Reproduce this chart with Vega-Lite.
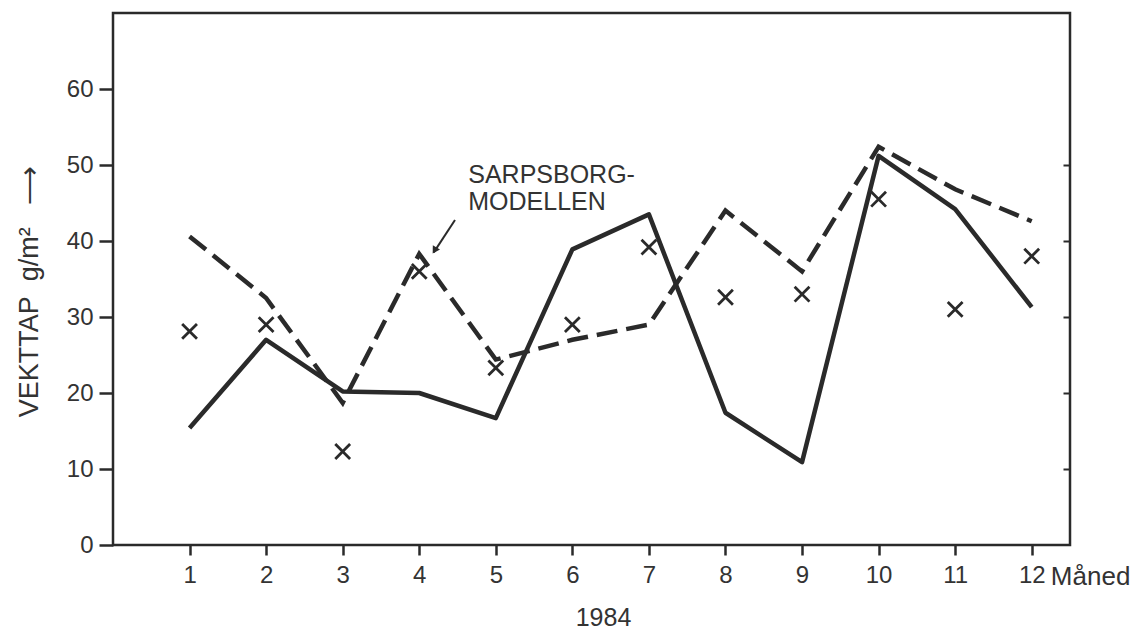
{
  "$schema": "https://vega.github.io/schema/vega-lite/v6.json",
  "width": 957,
  "height": 532,
  "autosize": "none",
  "padding": {"left": 113, "top": 13, "right": 70, "bottom": 85},
  "background": "#ffffff",
  "config": {
    "font": "Liberation Sans",
    "view": {"stroke": "#2a2a2a", "strokeWidth": 2.5},
    "axis": {
      "grid": false,
      "domain": false,
      "tickColor": "#2a2a2a",
      "tickWidth": 2.5,
      "labelColor": "#333333",
      "labelFont": "Liberation Sans",
      "labelFontSize": 24,
      "titleColor": "#333333",
      "titleFont": "Liberation Sans",
      "titleFontWeight": "normal"
    },
    "text": {"lineBreak": "\n"}
  },
  "datasets": {
    "vekttap": [
      {"maned": 1, "malt": 15.4, "modell": 40.6, "kryss": 28.1},
      {"maned": 2, "malt": 27.0, "modell": 32.5, "kryss": 29.0},
      {"maned": 3, "malt": 20.2, "modell": 18.7, "kryss": 12.3},
      {"maned": 4, "malt": 20.0, "modell": 38.3, "kryss": 36.0},
      {"maned": 5, "malt": 16.7, "modell": 24.4, "kryss": 23.3},
      {"maned": 6, "malt": 38.9, "modell": 27.0, "kryss": 29.0},
      {"maned": 7, "malt": 43.5, "modell": 29.0, "kryss": 39.2},
      {"maned": 8, "malt": 17.4, "modell": 44.0, "kryss": 32.6},
      {"maned": 9, "malt": 10.9, "modell": 36.0, "kryss": 33.0},
      {"maned": 10, "malt": 51.2, "modell": 52.4, "kryss": 45.5},
      {"maned": 11, "malt": 44.2, "modell": 46.8, "kryss": 31.0},
      {"maned": 12, "malt": 31.3, "modell": 42.6, "kryss": 38.0}
    ],
    "merknad": [
      {"x": 4.64, "y": 47.6, "tekst": "SARPSBORG-\nMODELLEN"}
    ],
    "pil": [
      {"x": 4.467, "y": 42.76, "x2": 4.19, "y2": 38.5, "spissx": 4.2, "spissy": 38.75}
    ],
    "enhet": [
      {"x": 12.25, "y": -5.3, "tekst": "Måned"}
    ]
  },
  "layer": [
    {
      "data": {"name": "vekttap"},
      "mark": {"type": "line", "color": "#2a2a2a", "strokeWidth": 4.5, "strokeJoin": "round"},
      "encoding": {
        "x": {
          "field": "maned", "type": "quantitative",
          "scale": {"domain": [0, 12.5], "nice": false, "zero": false},
          "axis": {
            "values": [1, 2, 3, 4, 5, 6, 7, 8, 9, 10, 11, 12],
            "format": "d",
            "tickSize": 10,
            "labelPadding": 8,
            "title": "1984",
            "titleFontSize": 25,
            "titleX": 490,
            "titleY": 80,
            "titleBaseline": "alphabetic"
          }
        },
        "y": {
          "field": "malt", "type": "quantitative",
          "scale": {"domain": [0, 70], "nice": false},
          "axis": {
            "orient": "left",
            "values": [0, 10, 20, 30, 40, 50, 60],
            "format": "d",
            "tickSize": 14,
            "labelPadding": 6,
            "title": "VEKTTAP\u00a0\u00a0g/m²\u00a0\u00a0\u00a0⟶",
            "titleFontSize": 27,
            "titleX": -76,
            "titleY": 278,
            "titleAngle": 270,
            "titleAlign": "center",
            "titleBaseline": "alphabetic"
          }
        }
      }
    },
    {
      "data": {"name": "vekttap"},
      "mark": {"type": "line", "color": "#2a2a2a", "strokeWidth": 4.5, "strokeDash": [21, 9]},
      "encoding": {
        "x": {"field": "maned", "type": "quantitative"},
        "y": {
          "field": "modell", "type": "quantitative",
          "axis": {
            "orient": "right",
            "values": [10, 20, 30, 40, 50],
            "tickSize": -7,
            "tickWidth": 2,
            "labels": false,
            "title": null
          }
        }
      }
    },
    {
      "data": {"name": "vekttap"},
      "mark": {
        "type": "point",
        "shape": "M-1,-1L1,1M1,-1L-1,1",
        "filled": false,
        "color": "#2a2a2a",
        "strokeWidth": 2.8,
        "size": 220,
        "opacity": 1
      },
      "encoding": {
        "x": {"field": "maned", "type": "quantitative"},
        "y": {"field": "kryss", "type": "quantitative", "axis": null}
      }
    },
    {
      "data": {"name": "merknad"},
      "mark": {"type": "text", "align": "left", "baseline": "alphabetic", "fontSize": 25, "lineHeight": 27, "color": "#333333"},
      "encoding": {
        "x": {"field": "x", "type": "quantitative"},
        "y": {"field": "y", "type": "quantitative", "axis": null},
        "text": {"field": "tekst"}
      }
    },
    {
      "data": {"name": "pil"},
      "mark": {"type": "rule", "color": "#2a2a2a", "strokeWidth": 2},
      "encoding": {
        "x": {"field": "x", "type": "quantitative"},
        "y": {"field": "y", "type": "quantitative", "axis": null},
        "x2": {"field": "x2"},
        "y2": {"field": "y2"}
      }
    },
    {
      "data": {"name": "pil"},
      "mark": {"type": "point", "shape": "triangle-up", "filled": true, "color": "#2a2a2a", "size": 70, "angle": 211, "opacity": 1},
      "encoding": {
        "x": {"field": "spissx", "type": "quantitative"},
        "y": {"field": "spissy", "type": "quantitative", "axis": null}
      }
    },
    {
      "data": {"name": "enhet"},
      "mark": {"type": "text", "align": "left", "baseline": "alphabetic", "fontSize": 26, "color": "#333333"},
      "encoding": {
        "x": {"field": "x", "type": "quantitative"},
        "y": {"field": "y", "type": "quantitative", "axis": null},
        "text": {"field": "tekst"}
      }
    }
  ],
  "resolve": {"axis": {"y": "independent"}}
}
